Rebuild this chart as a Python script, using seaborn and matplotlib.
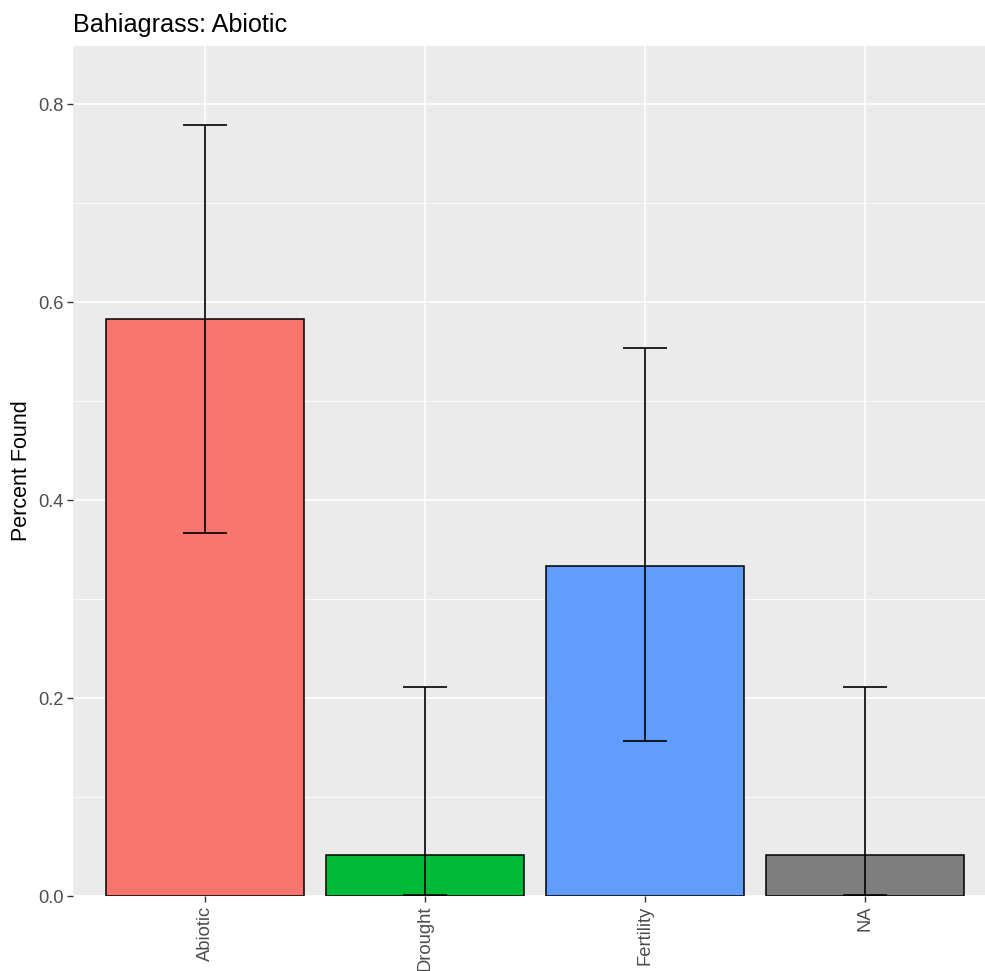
import matplotlib
matplotlib.use("Agg")
import matplotlib.pyplot as plt
import seaborn as sns
import pandas as pd
from matplotlib.ticker import MultipleLocator

categories = ["Abiotic", "Drought", "Fertility", "NA"]
percent_found = [0.5833, 0.0417, 0.3333, 0.0417]
ci_lower = [0.3664, 0.0011, 0.1563, 0.0011]
ci_upper = [0.7788, 0.2112, 0.5532, 0.2112]
bar_colors = ["#F8766D", "#00BA38", "#619CFF", "#7F7F7F"]

df = pd.DataFrame({"category": categories, "pct": percent_found,
                   "lo": ci_lower, "hi": ci_upper})

sns.set_theme(style="white")
plt.rcParams["font.family"] = ["Liberation Sans", "DejaVu Sans"]

fig = plt.figure(figsize=(9.85, 9.71), dpi=100)
W, H = 985, 971
ax = fig.add_axes([73 / W, (H - 896) / H, 912 / W, 850 / H])
ax.set_facecolor("#EBEBEB")

sns.barplot(data=df, x="category", y="pct", hue="category",
            palette=bar_colors, order=categories, hue_order=categories,
            width=0.9, saturation=1, edgecolor="black", linewidth=1.1,
            legend=False, errorbar=None, ax=ax, zorder=2)

yerr = [df["pct"] - df["lo"], df["hi"] - df["pct"]]
ax.errorbar(df["category"], df["pct"], yerr=yerr, fmt="none",
            ecolor="black", elinewidth=1.2, capsize=15.8, capthick=1.2,
            zorder=3)

ax.set_ylim(0, 0.8586)
ax.set_xlim(-0.6, 3.545)
ax.yaxis.set_minor_locator(MultipleLocator(0.1))
ax.set_yticks([0.0, 0.2, 0.4, 0.6, 0.8])
ax.set_yticklabels(["0.0", "0.2", "0.4", "0.6", "0.8"])

ax.grid(which="major", axis="both", color="white", linewidth=1.2, zorder=0)
ax.grid(which="minor", axis="y", color="white", linewidth=0.6, zorder=0)
ax.set_axisbelow(True)

for s in ax.spines.values():
    s.set_visible(False)

ax.tick_params(axis="both", which="major", length=4, width=1.0,
               color="#333333", labelcolor="#4D4D4D", labelsize=13.2,
               left=True, bottom=True, pad=3)
ax.tick_params(axis="y", which="minor", length=0, left=False)
ax.tick_params(axis="x", labelrotation=90)

ax.set_xlabel("")
ax.set_ylabel("Percent Found", fontsize=15.5, color="black", labelpad=4)
ax.set_title("Bahiagrass: Abiotic", loc="left", fontsize=18.1,
             color="black", pad=10)

fig.savefig("out.png", dpi=100)
